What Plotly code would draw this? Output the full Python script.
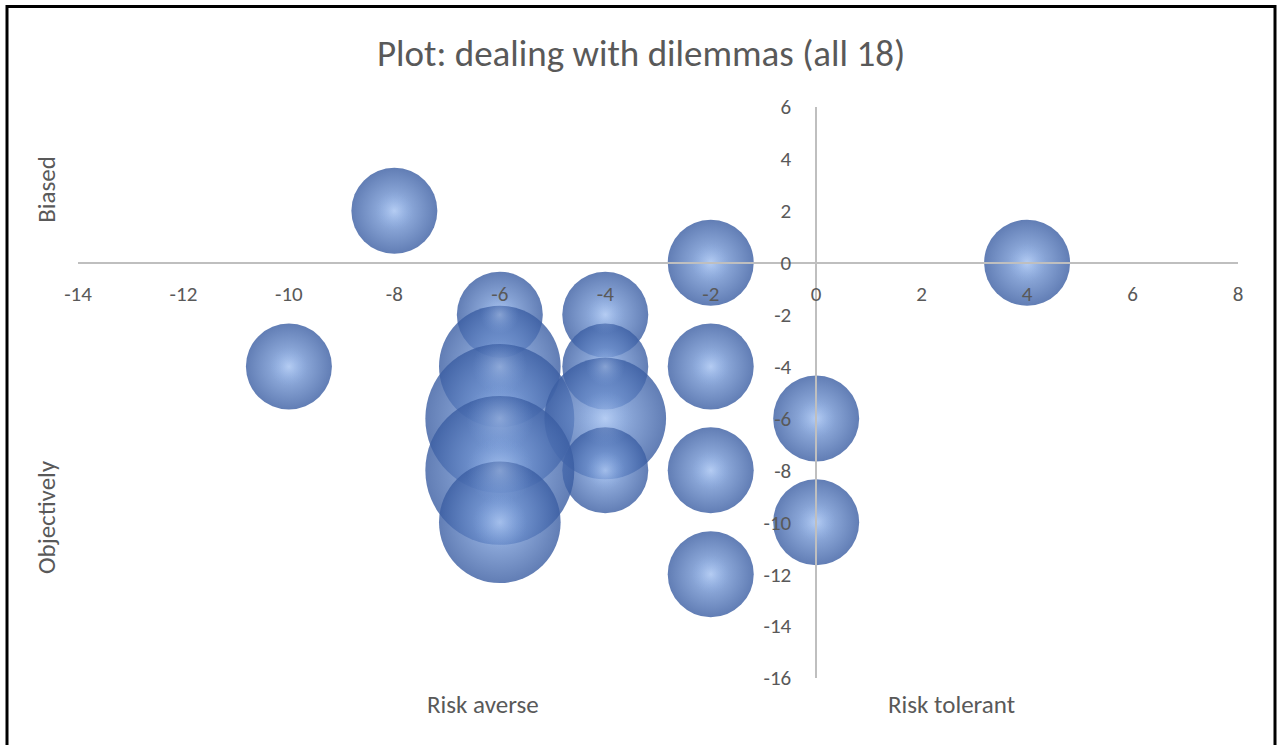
import math
import plotly.graph_objects as go

# Bubble positions (risk attitude vs. objectivity) and how many fall on each spot
x_vals = [-8, 4, -2, -6, -4, -10, -6, -4, -2, 0, -6, -4, -4, -2, -6, -6, 0, -2]
y_vals = [2, 0, 0, -2, -2, -4, -4, -4, -4, -6, -6, -6, -8, -8, -8, -10, -10, -12]
counts = [1, 1, 1, 1, 1, 1, 2, 1, 1, 1, 3, 2, 1, 1, 3, 2, 1, 1]

x_range = [-14, 8]
y_range = [-16, 6]
x_ticks = list(range(-14, 9, 2))
y_ticks = list(range(-16, 7, 2))

title_text = "Plot: dealing with dilemmas (all 18)"
FONT = "Calibri, Carlito, Lato, sans-serif"
GREY = "#595959"

# base diameter (px) of a bubble with count 1; bubble area scales with count
BASE_D = 86
diameters = [BASE_D * math.sqrt(c) for c in counts]

fig = go.Figure()

# sphere body: light centre fading to a deep blue rim
fig.add_trace(go.Scatter(
    x=x_vals, y=y_vals, mode="markers",
    marker=dict(
        size=diameters, sizemode="diameter",
        color="#3a5da2",
        gradient=dict(type="radial", color="#8cafe8"),
        opacity=0.8,
        line=dict(width=0),
    ),
    hoverinfo="x+y+text", text=[f"n={c}" for c in counts],
    showlegend=False,
))

# soft specular highlight on each sphere
fig.add_trace(go.Scatter(
    x=x_vals, y=y_vals, mode="markers",
    marker=dict(
        size=[d * 0.45 for d in diameters], sizemode="diameter",
        color="rgba(140,175,232,0)",
        gradient=dict(type="radial", color="rgba(210,226,252,0.55)"),
        line=dict(width=0),
    ),
    hoverinfo="skip", showlegend=False,
))

# axes cross at the origin
x_pos = (0 - y_range[0]) / (y_range[1] - y_range[0])
y_pos = (0 - x_range[0]) / (x_range[1] - x_range[0])

fig.update_layout(
    width=1277, height=745, autosize=False,
    margin=dict(l=78, r=39, t=107, b=67),
    paper_bgcolor="white", plot_bgcolor="white",
    font=dict(family=FONT, color=GREY),
    title=dict(
        text=title_text, xref="container", x=0.502, xanchor="center",
        yref="container", y=1 - 53 / 745, yanchor="middle",
        font=dict(family=FONT, size=37, color=GREY),
    ),
    xaxis=dict(
        range=x_range, tickvals=x_ticks, ticktext=[str(v) for v in x_ticks],
        showgrid=False, zeroline=False,
        showline=True, linecolor="#bfbfbf", linewidth=1.5,
        anchor="free", position=x_pos,
        ticks="outside", ticklen=12, tickcolor="rgba(0,0,0,0)",
        tickfont=dict(family=FONT, size=21, color=GREY),
    ),
    yaxis=dict(
        range=y_range, tickvals=y_ticks, ticktext=[str(v) for v in y_ticks],
        showgrid=False, zeroline=False,
        showline=True, linecolor="#bfbfbf", linewidth=1.5,
        anchor="free", position=y_pos,
        ticks="outside", ticklen=20, tickcolor="rgba(0,0,0,0)",
        tickfont=dict(family=FONT, size=21, color=GREY),
    ),
    annotations=[
        dict(text="Biased", xref="paper", yref="paper", x=-0.0267, y=0.855,
             textangle=-90, showarrow=False, font=dict(size=25, color=GREY),
             xanchor="center", yanchor="middle"),
        dict(text="Objectively", xref="paper", yref="paper", x=-0.0267, y=0.282,
             textangle=-90, showarrow=False, font=dict(size=25, color=GREY),
             xanchor="center", yanchor="middle"),
        dict(text="Risk averse", xref="paper", yref="paper", x=0.349, y=-0.047,
             showarrow=False, font=dict(size=25, color=GREY),
             xanchor="center", yanchor="middle"),
        dict(text="Risk tolerant", xref="paper", yref="paper", x=0.7526, y=-0.047,
             showarrow=False, font=dict(size=25, color=GREY),
             xanchor="center", yanchor="middle"),
    ],
    shapes=[
        dict(type="rect", xref="paper", yref="paper",
             x0=(7 - 78) / 1160, x1=(1275 - 78) / 1160,
             y0=(678 - 760) / 571, y1=(678 - 6.5) / 571,
             line=dict(color="black", width=3), fillcolor="rgba(0,0,0,0)",
             layer="below"),
    ],
)

fig.write_html("out.html")
